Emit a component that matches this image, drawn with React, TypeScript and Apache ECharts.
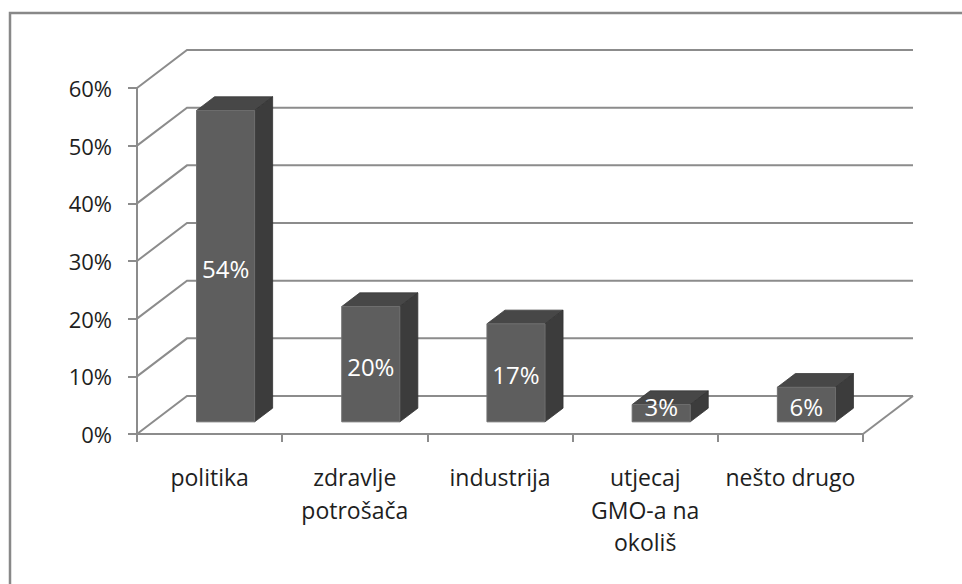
import React, { useEffect, useRef } from "react";
import * as echarts from "echarts";

const categories = ["politika", "zdravlje\npotrošača", "industrija", "utjecaj\nGMO-a na\nokoliš", "nešto drugo"];
const values = [54, 20, 17, 3, 6];
const yTicks = [0, 10, 20, 30, 40, 50, 60];

const DX = 50;
const DY = 38;
const FRONT_FRAC = 0.32;
const DEPTH_FRAC = 0.36;
const FONT = "'Open Sans', 'Noto Sans', sans-serif";

export default function App() {
  const ref = useRef<HTMLDivElement>(null);
  useEffect(() => {
    const chart = echarts.init(ref.current!, undefined, { renderer: "svg" });
    const option: any = {
      animation: false,
      backgroundColor: "#ffffff",
      grid: { left: 137, right: 99, top: 88, bottom: 150 },
      xAxis: {
        type: "category",
        data: categories,
        axisLine: { show: true, lineStyle: { color: "#8c8c8c", width: 2 } },
        axisTick: { show: true, length: 8, lineStyle: { color: "#8c8c8c", width: 2 } },
        axisLabel: {
          interval: 0,
          margin: 27,
          fontSize: 23,
          lineHeight: 32.5,
          color: "#1e1e1e",
          fontFamily: FONT,
        },
        splitLine: { show: false },
      },
      yAxis: {
        type: "value",
        min: 0,
        max: 60,
        interval: 10,
        axisLine: { show: true, lineStyle: { color: "#8c8c8c", width: 2 } },
        axisTick: { show: true, length: 9, lineStyle: { color: "#8c8c8c", width: 2 } },
        axisLabel: {
          formatter: "{value}%",
          margin: 25,
          fontSize: 22,
          color: "#1e1e1e",
          fontFamily: FONT,
        },
        splitLine: { show: false },
      },
      graphic: [
        {
          type: "rect",
          shape: { x: 10, y: 13, width: 1000, height: 1000 },
          style: { fill: "none", stroke: "#888", lineWidth: 2.5 },
          silent: true,
        },
      ],
      series: [
        {
          type: "custom",
          z: 1,
          data: yTicks.map((v) => [0, v]),
          renderItem: (params: any, api: any) => {
            const v = api.value(1);
            const cs = params.coordSys;
            const y = api.coord([0, v])[1];
            const x0 = cs.x;
            const x1 = cs.x + cs.width;
            const children: any[] = [
              {
                type: "polyline",
                shape: { points: [[x0, y], [x0 + DX, y - DY], [x1 + DX, y - DY]] },
                style: { stroke: "#8c8c8c", lineWidth: 2, fill: "none" },
              },
            ];
            if (v === 0) {
              children.push({
                type: "line",
                shape: { x1: x1, y1: y, x2: x1 + DX, y2: y - DY },
                style: { stroke: "#8c8c8c", lineWidth: 2 },
              });
            }
            return { type: "group", children };
          },
        },
        {
          type: "custom",
          z: 2,
          data: values.map((v, i) => [i, v]),
          renderItem: (params: any, api: any) => {
            const i = api.value(0);
            const v = api.value(1);
            const base = api.coord([i, 0]);
            const top = api.coord([i, v]);
            const bw = api.size([1, 0])[0];
            const w = bw * 0.4;
            const fx = FRONT_FRAC * DX;
            const fy = FRONT_FRAC * DY;
            const dx = DEPTH_FRAC * DX;
            const dy = DEPTH_FRAC * DY;
            const cx = base[0] + fx;
            const by = base[1] - fy;
            const ty = top[1] - fy;
            const l = cx - w / 2;
            const r = cx + w / 2;
            const labelY = Math.min((ty + by) / 2 + 2, by - 15);
            return {
              type: "group",
              children: [
                {
                  type: "polygon",
                  shape: { points: [[l, ty], [r, ty], [r + dx, ty - dy], [l + dx, ty - dy]] },
                  style: { fill: "#474747", stroke: "#3a3a3a", lineWidth: 0.8 },
                },
                {
                  type: "polygon",
                  shape: { points: [[r, ty], [r + dx, ty - dy], [r + dx, by - dy], [r, by]] },
                  style: { fill: "#3c3c3c", stroke: "#333", lineWidth: 0.8 },
                },
                {
                  type: "rect",
                  shape: { x: l, y: ty, width: w, height: by - ty },
                  style: { fill: "#5e5e5e", stroke: "#6e6e6e", lineWidth: 1 },
                },
                {
                  type: "text",
                  x: cx,
                  y: labelY,
                  style: {
                    text: v + "%",
                    fill: "#ffffff",
                    fontSize: 24,
                    fontFamily: FONT,
                    align: "center",
                    verticalAlign: "middle",
                  },
                },
              ],
            };
          },
        },
      ],
    };
    chart.setOption(option);
    return () => chart.dispose();
  }, []);
  return (
    <div
      ref={ref}
      style={{ position: "fixed", left: 0, top: 0, width: 962, height: 584 }}
    />
  );
}
